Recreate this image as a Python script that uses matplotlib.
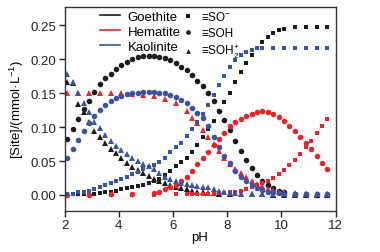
import matplotlib
matplotlib.use('Agg')
import matplotlib.pyplot as plt
from matplotlib.lines import Line2D

plt.rcParams['font.family'] = ['Liberation Sans', 'DejaVu Sans']
plt.rcParams['mathtext.fontset'] = 'custom'
plt.rcParams['mathtext.rm'] = 'Liberation Sans'
plt.rcParams['mathtext.it'] = 'Liberation Sans:italic'
plt.rcParams['mathtext.bf'] = 'Liberation Sans:bold'
plt.rcParams['mathtext.default'] = 'regular'

#%% data (pH, site concentration in mmol/L)
# Goethite
goe_ph = [2.1, 2.3, 2.5, 2.7, 2.9, 3.1, 3.3, 3.5, 3.7, 3.9, 4.1, 4.3, 4.5, 4.7, 4.9,
          5.1, 5.3, 5.5, 5.7, 5.9, 6.1, 6.3, 6.5, 6.7, 6.9, 7.1, 7.3, 7.5, 7.7, 7.9,
          8.1, 8.3, 8.5, 8.7, 8.9, 9.1, 9.3, 9.5, 9.7, 9.9, 10.1, 10.5, 10.9, 11.3, 11.7]
goe_so = [0.000, 0.001, 0.001, 0.001, 0.002, 0.002, 0.003, 0.004, 0.005, 0.006, 0.008, 0.010,
          0.011, 0.013, 0.015, 0.017, 0.020, 0.024, 0.030, 0.036, 0.042, 0.048, 0.055, 0.063,
          0.073, 0.085, 0.097, 0.109, 0.124, 0.137, 0.150, 0.166, 0.181, 0.195, 0.207, 0.217,
          0.225, 0.233, 0.239, 0.243, 0.245, 0.247, 0.248, 0.248, 0.248]
goe_soh = [0.082, 0.097, 0.112, 0.126, 0.139, 0.152, 0.163, 0.172, 0.179, 0.186, 0.192, 0.196,
           0.200, 0.203, 0.205, 0.205, 0.205, 0.204, 0.202, 0.199, 0.194, 0.189, 0.184, 0.177,
           0.168, 0.160, 0.150, 0.139, 0.124, 0.110, 0.095, 0.080, 0.065, 0.051, 0.039, 0.029,
           0.021, 0.014, 0.010, 0.006, 0.004, 0.002, 0.001, 0.000, 0.000]
goe_soh2_ph = [2.1, 2.3, 2.5, 2.7, 2.9, 3.1, 3.3, 3.5, 3.7, 3.9, 4.1, 4.3, 4.5, 4.7, 4.9,
               5.1, 5.3, 5.5, 5.7, 5.9, 6.1, 6.3, 6.5, 6.7, 6.9, 7.1, 7.3, 7.5, 7.7,
               8.1, 8.5, 8.9, 9.3, 9.7, 10.1, 10.5, 10.9, 11.3, 11.7]
goe_soh2 = [0.166, 0.165, 0.134, 0.122, 0.107, 0.094, 0.086, 0.077, 0.068, 0.062, 0.054, 0.047,
            0.041, 0.037, 0.033, 0.028, 0.024, 0.020, 0.017, 0.014, 0.012, 0.010, 0.008, 0.006,
            0.005, 0.004, 0.003, 0.003, 0.002, 0.002, 0.001, 0.001, 0.001, 0.000, 0.000, 0.000,
            0.000, 0.000, 0.000]

# Hematite
hem_so_ph = [2.1, 2.9, 3.7, 4.5, 5.3, 6.1, 6.5, 6.7, 6.9, 7.1, 7.3, 7.5, 7.7, 7.9, 8.1, 8.3,
             8.5, 8.7, 8.9, 9.1, 9.3, 9.5, 9.7, 9.9, 10.1, 10.3, 10.5, 10.7, 10.9, 11.1, 11.3,
             11.5, 11.7]
hem_so = [0.000, 0.000, 0.000, 0.000, 0.000, 0.001, 0.001, 0.001, 0.001, 0.002, 0.002, 0.002,
          0.003, 0.003, 0.004, 0.005, 0.006, 0.008, 0.011, 0.014, 0.017, 0.021, 0.025, 0.031,
          0.037, 0.044, 0.051, 0.060, 0.070, 0.080, 0.091, 0.102, 0.112]
hem_soh_ph = [2.1, 2.9, 3.7, 4.5, 5.3, 5.5, 5.7, 5.9, 6.1, 6.3, 6.5, 6.7, 6.9, 7.1, 7.3, 7.5,
              7.7, 7.9, 8.1, 8.3, 8.5, 8.7, 8.9, 9.1, 9.3, 9.5, 9.7, 9.9, 10.1, 10.3, 10.5,
              10.7, 10.9, 11.1, 11.3, 11.5, 11.7]
hem_soh = [0.000, 0.000, 0.001, 0.001, 0.003, 0.005, 0.008, 0.011, 0.015, 0.020, 0.027, 0.036,
           0.045, 0.055, 0.064, 0.073, 0.083, 0.092, 0.101, 0.107, 0.112, 0.116, 0.120, 0.123,
           0.124, 0.123, 0.120, 0.115, 0.109, 0.102, 0.094, 0.086, 0.077, 0.068, 0.057, 0.047,
           0.038]
hem_soh2_ph = [2.1, 2.5, 2.9, 3.3, 3.7, 4.1, 4.5, 4.9, 5.3, 5.7, 6.1, 6.5, 6.7, 6.9, 7.1, 7.3,
               7.5, 7.7, 7.9, 8.1, 8.3, 8.5, 8.7, 8.9, 9.1, 9.3, 9.5, 9.7, 9.9, 10.1, 10.5,
               10.9, 11.3, 11.7]
hem_soh2 = [0.151, 0.150, 0.150, 0.150, 0.150, 0.150, 0.149, 0.147, 0.146, 0.141, 0.136, 0.124,
            0.114, 0.106, 0.096, 0.085, 0.075, 0.065, 0.055, 0.046, 0.038, 0.032, 0.026, 0.021,
            0.016, 0.013, 0.009, 0.007, 0.005, 0.004, 0.003, 0.002, 0.002, 0.002]

# Kaolinite
kao_so_ph = [2.1, 2.3, 2.5, 2.7, 2.9, 3.1, 3.3, 3.5, 3.7, 3.9, 4.1, 4.3, 4.5, 4.7, 4.9,
             5.1, 5.3, 5.5, 5.7, 5.9, 6.1, 6.3, 6.5, 6.7, 6.9, 7.1, 7.3, 7.5, 7.7, 7.9,
             8.1, 8.3, 8.5, 8.7, 8.9, 9.1, 9.3, 9.7, 10.1, 10.5, 10.9, 11.3, 11.7]
kao_so = [0.001, 0.002, 0.004, 0.005, 0.006, 0.009, 0.011, 0.014, 0.017, 0.020, 0.024, 0.027,
          0.031, 0.034, 0.038, 0.041, 0.044, 0.048, 0.055, 0.063, 0.070, 0.077, 0.087, 0.097,
          0.108, 0.119, 0.133, 0.147, 0.162, 0.175, 0.188, 0.199, 0.207, 0.211, 0.213, 0.216,
          0.217, 0.217, 0.217, 0.217, 0.217, 0.217, 0.217]
kao_soh_ph = goe_ph
kao_soh = [0.054, 0.067, 0.081, 0.094, 0.106, 0.116, 0.125, 0.132, 0.139, 0.143, 0.146, 0.149,
           0.150, 0.151, 0.152, 0.152, 0.152, 0.151, 0.150, 0.147, 0.145, 0.140, 0.135, 0.128,
           0.121, 0.114, 0.101, 0.086, 0.071, 0.057, 0.047, 0.036, 0.027, 0.020, 0.014, 0.010,
           0.007, 0.005, 0.004, 0.003, 0.002, 0.001, 0.001, 0.001, 0.001]
kao_soh2_ph = [2.1, 2.3, 2.5, 2.7, 2.9, 3.1, 3.3, 3.5, 3.7, 3.9, 4.1, 4.3, 4.5, 4.7, 4.9,
               5.1, 5.3, 5.5, 5.7, 5.9, 6.1, 6.3, 6.5, 6.7, 6.9, 7.1, 7.3, 7.5, 7.7, 7.9,
               8.1, 8.3, 8.5, 8.9, 9.3, 9.7, 10.1, 10.5, 10.9, 11.3, 11.7]
kao_soh2 = [0.178, 0.166, 0.150, 0.136, 0.122, 0.108, 0.098, 0.089, 0.080, 0.072, 0.066, 0.060,
            0.055, 0.050, 0.046, 0.042, 0.038, 0.033, 0.027, 0.023, 0.020, 0.018, 0.016, 0.015,
            0.013, 0.012, 0.011, 0.009, 0.006, 0.004, 0.003, 0.003, 0.002, 0.002, 0.002, 0.001,
            0.001, 0.001, 0.001, 0.001, 0.001]

minerals = ['Goethite', 'Hematite', 'Kaolinite']
species = ['≡SO$^{-}$', '≡SOH', '≡SOH$_2^{+}$']
colors = ['#1c1c1c', '#e5262b', '#3a52a3']

#%% plot
fig = plt.figure(figsize=(3.8, 2.53), dpi=100)
ax = fig.add_axes([0.170, 0.164, 0.713, 0.804])

ms = 3.4
series = [
    (goe_ph, goe_so, goe_ph, goe_soh, goe_soh2_ph, goe_soh2),
    (hem_so_ph, hem_so, hem_soh_ph, hem_soh, hem_soh2_ph, hem_soh2),
    (kao_so_ph, kao_so, kao_soh_ph, kao_soh, kao_soh2_ph, kao_soh2),
]
for (x1, y1, x2, y2, x3, y3), c in zip(series, colors):
    ax.plot(x1, y1, 's', color=c, ms=ms, mew=0)
    ax.plot(x2, y2, 'o', color=c, ms=ms + 0.6, mew=0)
    ax.plot(x3, y3, '^', color=c, ms=ms + 0.8, mew=0)

ax.set_xlim(2, 12)
ax.set_ylim(-0.023, 0.277)
ax.set_xticks([2, 4, 6, 8, 10, 12])
ax.set_yticks([0.00, 0.05, 0.10, 0.15, 0.20, 0.25])
ax.set_yticklabels(['0.00', '0.05', '0.10', '0.15', '0.20', '0.25'])
ax.tick_params(direction='out', length=4, width=1, labelsize=9.5, colors='#222222', pad=2)
for s in ax.spines.values():
    s.set_color('#333333')
    s.set_linewidth(1)

ax.set_xlabel('pH', fontsize=9.5, labelpad=0)
ax.set_ylabel('[Site]/(mmol·L$^{-1}$)', fontsize=9.5, labelpad=3)

# two legends: mineral colours (lines) and site species (markers)
h1 = [Line2D([], [], color=c, lw=1.2) for c in colors]
leg1 = ax.legend(h1, minerals, frameon=False, fontsize=9.5, loc='upper left',
                 bbox_to_anchor=(0.131, 0.982), handlelength=1.5, handletextpad=0.6,
                 labelspacing=0.2, borderpad=0, borderaxespad=0)
ax.add_artist(leg1)
h2 = [Line2D([], [], ls='', marker=m, color='#1c1c1c', ms=3.4, mew=0) for m in ['s', 'o', '^']]
ax.legend(h2, species, frameon=False, fontsize=8.5, loc='upper left',
          bbox_to_anchor=(0.434, 0.987), handlelength=1.0, handletextpad=0.6,
          labelspacing=0.35, borderpad=0, borderaxespad=0)

plt.savefig('out.png', dpi=100)
